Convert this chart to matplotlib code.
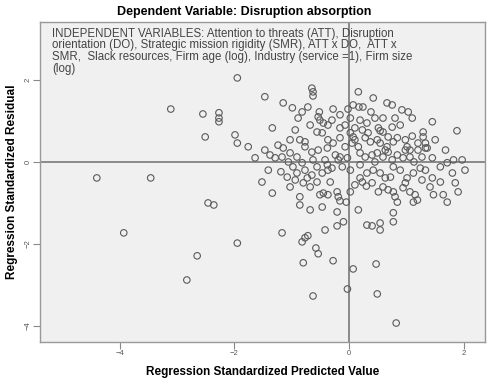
import numpy as np
import matplotlib
matplotlib.use("Agg")
import matplotlib.pyplot as plt

# standardized predicted values (x) and standardized residuals (y)
pred = [
    -4.40, -3.46, -3.93, -3.11, -2.55, -2.27, -2.27, -2.27, -2.51, -1.99,
    -1.95, -1.95, -2.46, -2.36, -1.95, -2.65, -2.83,
    -1.47, -1.15, -0.99, -0.82, -0.72, -0.65, -0.63, -0.63, -0.52, -0.54,
    -0.28, -0.02, 0.16, 0.42, 0.17, 0.24, 0.66, 0.75, 0.92, 1.03, 0.38,
    1.45, 1.88, -1.34, -0.51, -0.45, -0.30, -0.16, 0.19, 0.31, 0.51, 0.54,
    0.75, 1.29, 1.29, 1.33, 1.33, -1.15, -0.86, -0.77, -0.56, -0.47, -0.37,
    -0.28, -0.16, 0.02, 0.07, 0.10, 0.05, 0.28, 0.37, 0.49, 0.54, 0.66,
    0.77, 0.84, 0.98, 1.01, 1.06, 1.36, -1.38, -1.29, -1.17, -1.03, -0.91,
    -0.77, -0.65, -0.54, -0.38, -0.24, -0.16, -0.03, 0.19, 0.28, 0.40, 0.49,
    0.59, 0.68, 0.84, 0.94, 1.06, 1.45, 1.59, 1.71, 1.82,
    -0.98, -0.91, -0.77, -0.56, -0.38, -0.30, -1.08, -0.94, -0.73, -0.65,
    -0.47, -0.37, -0.12, 0.02, 0.19, 0.31, 0.42, 0.54, 0.63, 0.77, 0.89,
    1.01, 1.12, 1.24, 1.27, 1.45, 1.80, -1.52, -1.34, -0.86, -0.80, -0.68,
    -0.56, -0.45, -0.37, -0.21, -0.19, -0.16, 0.23, 0.30, 0.40, 0.59, 0.68,
    0.77, 0.80, 0.94, 1.06, 1.15, 1.47, 1.71, 1.90, 0.84, 1.12, 1.19,
    -1.17, -0.82, -0.77, -0.72, -0.58, -0.54, -0.80, -0.28, 0.07, 0.47,
    -0.03, -0.63, 0.49, 0.82, -0.47, -0.21, -0.05, -0.10, -0.21, 0.31,
    0.40, 0.54, 0.54, 0.77, 0.77,
    -0.07, 0.02, 0.10, -0.07, 0.16, 0.23, 0.33, 0.59, 0.68, 0.63, 0.75,
    0.45, 0.19, -0.19, -0.42, -0.63, -0.82, -1.06, 1.13, 1.27, 1.20, 1.10,
    0.89, 0.80, 0.45, -0.16, -0.37, -0.68, -0.94, -0.89, -1.03, -1.24,
    -1.47, -1.64, -1.76, 0.98, 1.20, 1.50, 1.68, 1.59, 1.41, 1.33, 0.98,
    0.72, 0.51, 0.10, 0.02, -0.33, -0.51, -1.03, -1.19, -1.41, -0.86,
    -0.68, -0.42, 0.16, 2.02, 1.97, 1.85, 1.64, 0.07, 0.59, 1.10,
]
resid = [
    -0.39, -0.39, -1.73, 1.29, 1.17, 1.20, 1.07, 0.98, 0.61, 0.66,
    0.46, 2.05, -1.00, -1.05, -1.98, -2.29, -2.88,
    1.59, 1.44, 1.32, 1.22, 1.34, 1.80, 1.71, 1.61, 1.22, 1.10,
    1.29, 1.29, 1.71, 1.56, 1.34, 1.34, 1.44, 1.39, 1.27, 1.22, 1.22,
    0.98, 0.76, 0.83, 1.02, 0.95, 1.02, 0.83, 1.02, 0.95, 0.83, 0.76,
    0.85, 0.73, 0.61, 0.46, 0.34, 0.34, 0.54, 0.49, 0.73, 0.71, 0.54,
    0.46, 0.59, 0.71, 0.61, 0.54, 0.46, 0.59, 0.49, 0.54, 0.46, 0.37,
    0.49, 0.59, 0.54, 0.37, 0.29, 0.34, 0.17, 0.10, 0.12, 0.22, 0.12,
    0.37, 0.24, 0.29, 0.34, 0.17, 0.12, 0.10, 0.22, 0.12, 0.17, 0.22,
    0.12, 0.24, 0.17, 0.10, 0.12, 0.10, -0.12, -0.02, 0.05,
    -0.12, -0.27, -0.20, -0.12, -0.07, -0.15, -0.37, -0.44, -0.39, -0.32,
    -0.27, -0.20, -0.12, -0.20, -0.39, -0.27, -0.20, -0.27, -0.39, -0.12, -0.20,
    -0.39, -0.27, -0.15, -0.44, -0.39, -0.27, -0.49, -0.76, -0.85, -0.51, -0.61,
    -0.49, -0.76, -0.80, -0.73, -0.85, -0.95, -0.49, -0.59, -0.51, -0.61, -0.68,
    -0.73, -0.85, -0.63, -0.73, -0.80, -0.80, -0.98, -0.73, -0.98, -0.98, -0.93,
    -1.73, -1.95, -1.85, -1.80, -2.10, -2.24, -2.46, -2.41, -2.61, -2.49,
    -3.10, -3.27, -3.22, -3.93, -1.10, -1.22, -0.98, -1.46, -1.56, -1.54,
    -1.56, -1.49, -1.66, -1.24, -1.46,
    0.90, 1.07, 0.83, 0.37, 0.37, 0.78, 0.71, 0.73, 0.61, 0.29, 0.05,
    0.00, -0.07, 0.05, 0.05, 0.05, -0.02, 0.00, 0.00, 0.12, 0.46, 0.63,
    0.90, 1.07, 1.07, 1.15, 0.90, 0.90, 0.78, 1.07, 0.54, 0.41,
    0.29, 0.10, 0.37, 0.29, 0.29, 0.54, 0.29, -0.49, -0.61, -0.20, -0.51,
    -0.37, -0.73, -0.56, -0.73, -0.49, -0.80, -0.61, -0.24, -0.20, -1.05,
    -1.17, -1.66, -1.17, -0.20, 0.05, -0.51, -0.80, 1.39, 1.07, 1.07,
]

x_ticks = [-4, -2, 0, 2]
y_ticks = [-4, -2, 0, 2]

title = "Dependent Variable: Disruption absorption"
note = ("INDEPENDENT VARIABLES: Attention to threats (ATT), Disruption\n"
        "orientation (DO), Strategic mission rigidity (SMR), ATT x DO,  ATT x\n"
        "SMR,  Slack resources, Firm age (log), Industry (service =1), Firm size\n"
        "(log)")

plt.rcParams['font.family'] = ['Liberation Sans', 'DejaVu Sans']

fig = plt.figure(figsize=(4.88, 3.82), dpi=100)
ax = fig.add_axes([0.082, 0.105, 0.912, 0.837])
ax.set_facecolor('#f0f0f0')

ax.axvline(0, color='#8a8a8a', lw=1.4, zorder=1)
ax.axhline(0, color='#8a8a8a', lw=1.4, zorder=1)
ax.scatter(pred, resid, s=22, facecolors='none', edgecolors='#5a5a5a',
           linewidths=0.8, zorder=2)

ax.set_xlim(-5.39, 2.37)
ax.set_ylim(-4.39, 3.41)
ax.set_xticks(x_ticks)
ax.set_yticks(y_ticks)
ax.tick_params(direction='out', length=5, width=0.8, color='#888888',
               labelsize=5.5, labelcolor='#555555', pad=1)
for lab in ax.get_yticklabels():
    lab.set_rotation(90)
    lab.set_va('center')

for sp in ax.spines.values():
    sp.set_color('#999999')
    sp.set_linewidth(1.0)

ax.set_xlabel("Regression Standardized Predicted Value", fontsize=8.5,
              fontweight='bold', labelpad=6)
ax.set_ylabel("Regression Standardized Residual", fontsize=8.5,
              fontweight='bold', labelpad=5)
# chart title is centred on the whole figure, not the axes
fig.text(0.5, 0.968, title, fontsize=9, fontweight='bold',
         ha='center', va='center')
ax.text(0.028, 0.982, note, transform=ax.transAxes, fontsize=8.3,
        color='#444444', va='top', ha='left', linespacing=0.95)

fig.savefig('out.png', dpi=100)
